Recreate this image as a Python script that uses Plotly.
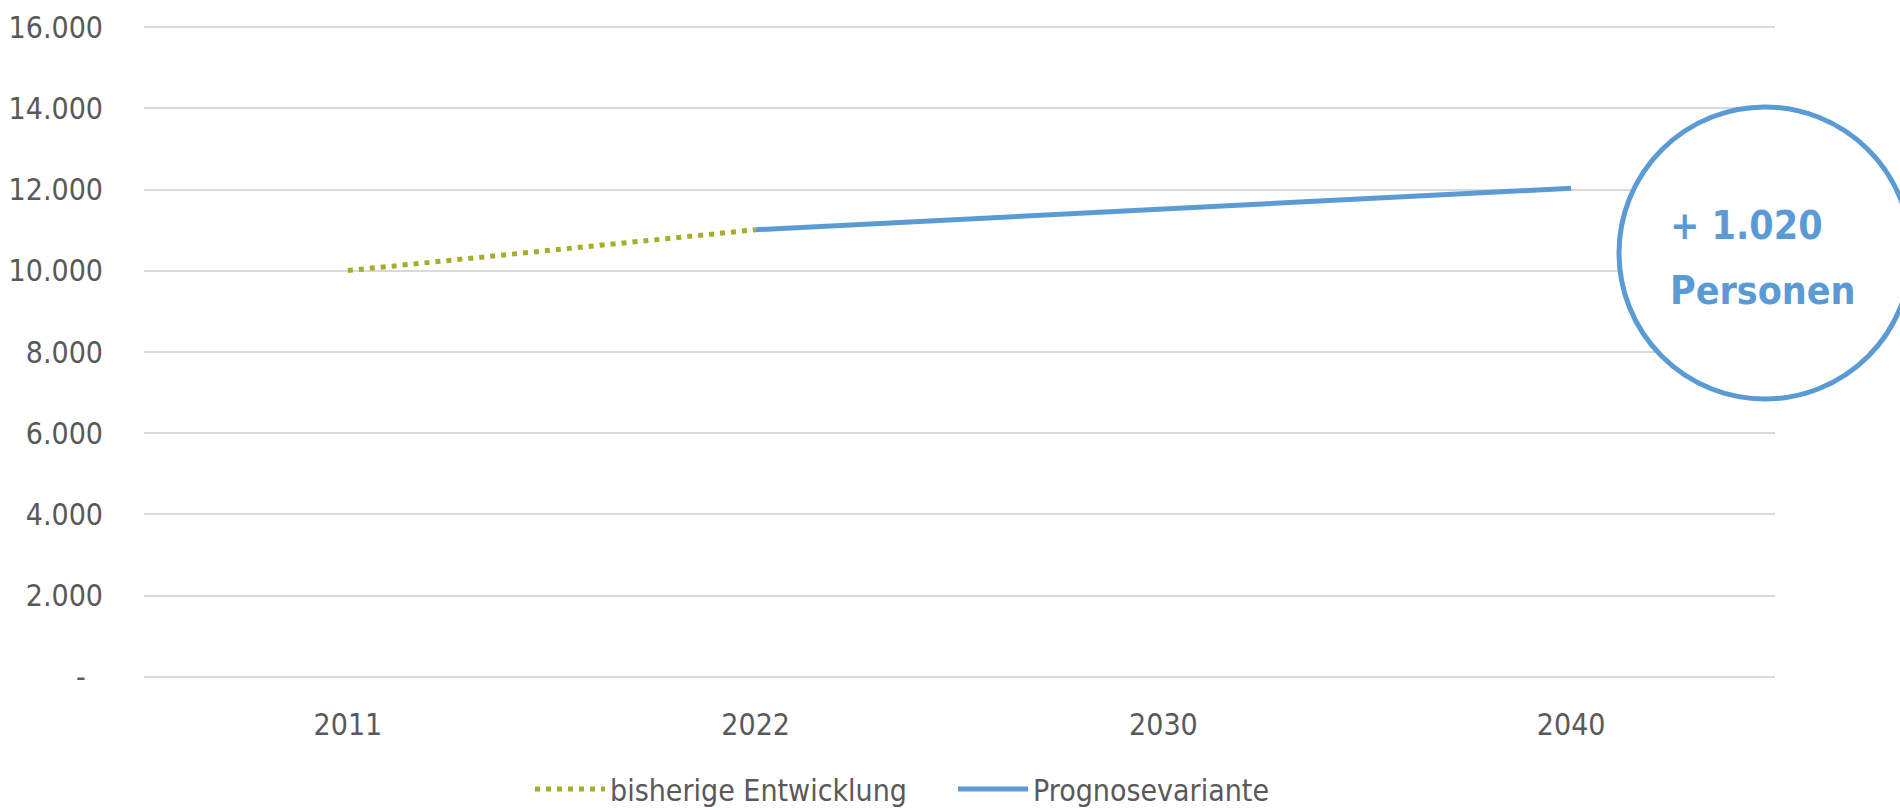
import plotly.graph_objects as go

categories = ["2011", "2022", "2030", "2040"]
hist_years = ["2011", "2022"]
hist_values = [10005, 11010]
prog_years = ["2022", "2030", "2040"]
prog_values = [11010, 11510, 12030]
y_ticks = [0, 2000, 4000, 6000, 8000, 10000, 12000, 14000, 16000]
y_labels = ["-\u2007", "2.000", "4.000", "6.000", "8.000", "10.000", "12.000", "14.000", "16.000"]
callout_lines = ["+ 1.020", "Personen"]

FONT = "DejaVu Sans Condensed, Liberation Sans Narrow, Roboto, sans-serif"
GREY = "#595959"
GREEN = "#A5AE28"
BLUE = "#5B9BD5"

fig = go.Figure()
fig.add_trace(go.Scatter(x=hist_years, y=hist_values, mode="lines",
                         name="bisherige Entwicklung",
                         line=dict(color=GREEN, width=5, dash="5px,6px")))
fig.add_trace(go.Scatter(x=prog_years, y=prog_values, mode="lines",
                         name="Prognosevariante",
                         line=dict(color=BLUE, width=5)))

L, R, T, B = 144, 125, 25, 131
W, H = 1900, 810
pw, ph = W - L - R, H - T - B
YMIN, YMAX = -50, 16050

def px_x(x):
    return (x - L) / pw

def px_y(y):
    return (H - B - y) / ph

cx, cy, r = 1765, 253, 146
fig.add_shape(type="circle", xref="paper", yref="paper",
              x0=px_x(cx - r), x1=px_x(cx + r), y0=px_y(cy + r), y1=px_y(cy - r),
              line=dict(color=BLUE, width=5), fillcolor="white", layer="above")
for line_text, ypix in zip(callout_lines, [225, 290]):
    fig.add_annotation(xref="paper", yref="paper", x=px_x(1668), y=px_y(ypix),
                       xanchor="left", yanchor="middle", align="left",
                       text="<b>" + line_text + "</b>", showarrow=False,
                       font=dict(family=FONT, size=39, color=BLUE))

fig.update_layout(
    width=W, height=H,
    margin=dict(l=L, r=R, t=T, b=B, autoexpand=False),
    paper_bgcolor="white", plot_bgcolor="white",
    font=dict(family=FONT, size=30, color=GREY),
    showlegend=True,
    legend=dict(orientation="h", x=px_x(530), xanchor="left", y=px_y(763), yanchor="top",
                font=dict(family=FONT, size=30, color=GREY),
                itemwidth=70, entrywidth=338, entrywidthmode="pixels",
                traceorder="normal"),
    xaxis=dict(type="category", categoryorder="array", categoryarray=categories,
               range=[-0.5, 3.5], showgrid=False, zeroline=False, showline=False,
               ticks="", tickfont=dict(size=30, color=GREY), ticklabelstandoff=25,
               automargin=False),
    yaxis=dict(range=[YMIN, YMAX], tickvals=y_ticks, ticktext=y_labels,
               showgrid=True, gridcolor="#D9D9D9", gridwidth=1.5,
               zeroline=False, showline=False, ticks="",
               tickfont=dict(size=30, color=GREY), ticklabelstandoff=40,
               automargin=False),
)

fig.write_html("out.html", config={"displayModeBar": False},
               post_script="document.body.style.margin='0';document.body.style.overflow='hidden';")
